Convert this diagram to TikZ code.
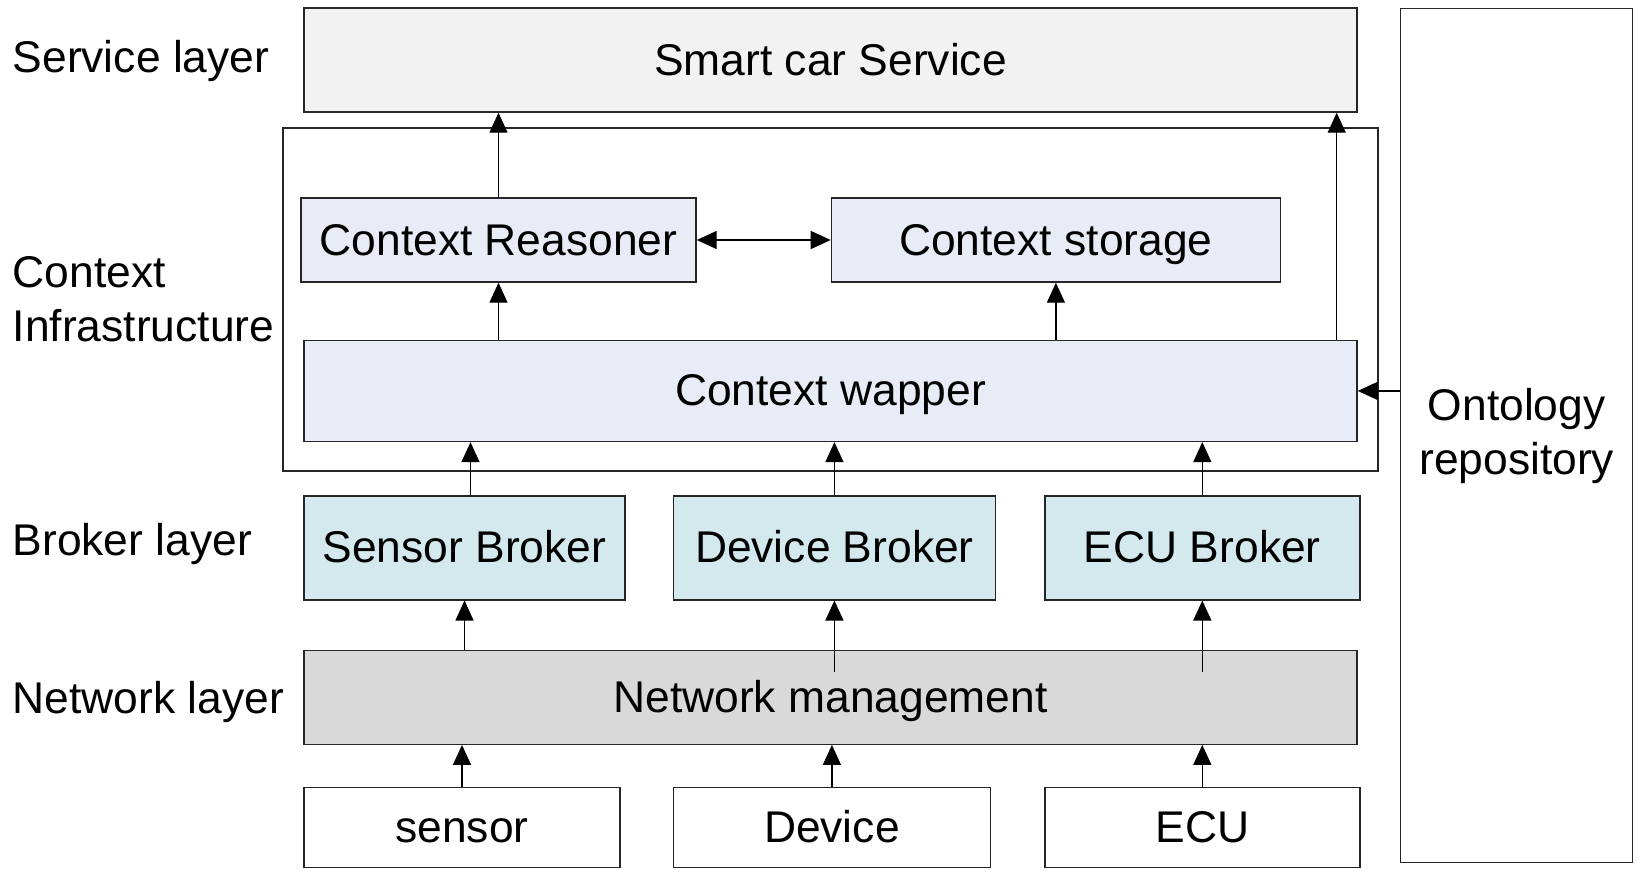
\documentclass[tikz,border=0pt]{standalone}
\usepackage{fontspec}
\setmainfont{Liberation Sans}
\usetikzlibrary{arrows.meta,positioning,calc}

\definecolor{svcgray}{HTML}{F2F2F2}
\definecolor{ctxblue}{HTML}{E7ECF7}
\definecolor{brkcyan}{HTML}{D3E9EE}
\definecolor{netgray}{HTML}{D9D9D9}

\begin{document}
\begin{tikzpicture}[->,>={Triangle[length=10pt,width=9pt]},line width=0.7pt,
                    x=0.5pt,y=-0.5pt,font=\fontsize{22.2pt}{27pt}\selectfont]
  \tikzset{box/.style={draw=black!85,inner sep=0pt,align=center,text height=16pt,text depth=1pt},
           layer/.style={anchor=west,align=left,inner sep=0pt}}
  \useasboundingbox (0,0) rectangle (1637,869);

  \node[box,fill=svcgray,minimum width=526.5pt,minimum height=52pt] (service) at (830.5,60) {Smart car Service};
  \node[box,fill=ctxblue,minimum width=526.5pt,minimum height=50.5pt] (wrapper) [below=113.5pt of service] {Context wapper};
  \node[box,fill=ctxblue,minimum width=197.5pt,minimum height=42pt] (reasoner) [above right=28.5pt and -1.5pt of wrapper.north west] {Context Reasoner};
  \node[box,fill=ctxblue,minimum width=224.5pt,minimum height=42pt] (storage) [right=67pt of reasoner] {Context storage};

  \node[box,fill=brkcyan,minimum width=160.5pt,minimum height=52pt] (sensorb) [below right=26.5pt and 0pt of wrapper.south west] {Sensor Broker};
  \node[box,fill=brkcyan,minimum width=161pt,minimum height=52pt] (deviceb) [right=23.5pt of sensorb] {Device Broker};
  \node[box,fill=brkcyan,minimum width=157.5pt,minimum height=52pt] (ecub) [right=24pt of deviceb] {ECU Broker};

  \node[box,fill=netgray,minimum width=526.5pt,minimum height=47pt] (nm) [below right=24.5pt and 0pt of sensorb.south west] {Network management};

  \node[box,minimum width=158pt,minimum height=40pt] (sensor) [below right=21pt and 0pt of nm.south west] {sensor};
  \node[box,minimum width=158.5pt,minimum height=40pt] (device) [right=26pt of sensor] {Device};
  \node[box,minimum width=157.5pt,minimum height=40pt] (ecu) [right=26.5pt of device] {ECU};

  \node[box,text height=,text depth=,minimum width=116pt,minimum height=427pt,anchor=north west] (onto) at (1400,8) {Ontology\\repository};

  % frame of the context infrastructure
  \draw[-,draw=black!85] (283,128) rectangle (1378,471);

  % layer names
  \node[layer] (lsvc) at (12,61) {Service layer};
  \node[layer] (lctx) at (12,299) {Context\\Infrastructure};
  \node[layer] (lbrk) at (12,544) {Broker layer};
  \node[layer] (lnet) at (12,702) {Network layer};

  \coordinate (wtap) at ($(wrapper.north east)+(-10.5pt,0)$);
  \coordinate (stap) at ($(sensorb.north)+(3pt,0)$);

  \draw (reasoner.north) -- (reasoner.north |- service.south);
  \draw (wtap) -- (wtap |- service.south);
  \draw (reasoner.south |- wrapper.north) -- (reasoner.south);
  \draw (storage.south |- wrapper.north) -- (storage.south);
  \draw[<->] (reasoner) -- (storage);
  \draw (onto.west |- wrapper.east) -- (wrapper.east);

  \draw (stap) -- (stap |- wrapper.south);
  \foreach \b in {deviceb,ecub}
    \draw (\b.north) -- (\b.north |- wrapper.south);
  \draw (sensorb.south |- nm.north) -- (sensorb.south);
  \foreach \b in {deviceb,ecub}
    \draw ($(\b.south |- nm.north)+(0,-11pt)$) -- (\b.south);
  \foreach \d in {sensor,device,ecu}
    \draw (\d.north) -- (\d.north |- nm.south);
\end{tikzpicture}
\end{document}
